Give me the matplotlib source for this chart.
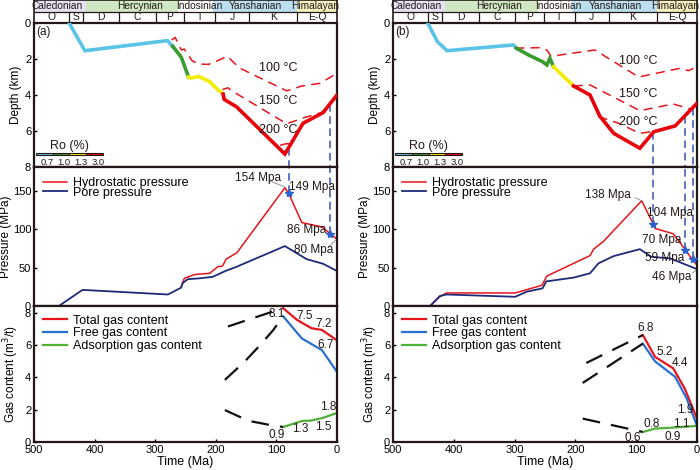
import matplotlib
matplotlib.use('Agg')
import matplotlib.pyplot as plt
import matplotlib.patches as mpatches
import numpy as np

plt.rcParams['font.family'] = ['Liberation Sans', 'DejaVu Sans']

# --- geological time scale (Ma) ---
periods = ['O', 'S', 'D', 'C', 'P', 'T', 'J', 'K', 'E-Q']
period_bounds = [500, 443, 419, 359, 299, 252, 201, 145, 66, 0]
eras = ['Caledonian', 'Hercynian', 'Indosinian', 'Yanshanian', 'Himalayan']
era_bounds = [500, 414, 262, 205, 66, 0]
era_colors = ['#e6e2f3', '#cfe7c2', '#ffffff', '#bcdff0', '#f6f2bf']
era_label_t = [462, 325, 228, 134, 36]

ro_labels = ['0.7', '1.0', '1.3', '3.0']
ro_colors = ['#5bc3e8', '#3a9c2e', '#f2ee00', '#e8000b']

# --- (a) burial history ---
a_blue_t = [442, 416, 280, 271]
a_blue_d = [0, 1.54, 0.98, 1.3]
a_green_t = [271, 257, 245]
a_green_d = [1.3, 1.9, 3.0]
a_yellow_t = [245, 241, 228, 210, 197, 188]
a_yellow_d = [3.0, 3.06, 2.97, 3.26, 3.7, 3.93]
a_red_t = [188, 186, 166, 86, 56, 23, 0]
a_red_d = [3.95, 4.25, 4.65, 7.28, 5.57, 4.98, 4.0]

a_iso100_t = [273, 267, 257, 252, 239, 228, 212, 194, 181, 161, 83, 58, 28, 0]
a_iso100_d = [0.95, 0.8, 1.5, 1.45, 2.1, 2.28, 2.3, 2.05, 1.85, 2.5, 3.77, 3.5, 3.35, 2.8]
a_iso150_t = [189, 180, 172, 83, 58, 23]
a_iso150_d = [3.7, 3.6, 3.8, 5.6, 5.3, 4.95]
a_iso200_t = [94, 86, 78]
a_iso200_d = [6.8, 6.72, 6.7]
a_iso_label_d = [2.5, 4.33, 5.95]

# --- (b) burial history ---
b_blue_t = [443, 427, 411, 302, 297]
b_blue_d = [0, 1.04, 1.54, 1.22, 1.4]
b_green_t = [297, 277, 254, 247, 242, 236]
b_green_d = [1.4, 1.78, 2.15, 2.33, 1.96, 2.43]
b_yellow_t = [236, 203]
b_yellow_d = [2.43, 3.5]
b_red_t = [203, 176, 160, 137, 94, 71, 36, 0]
b_red_d = [3.5, 4.0, 5.17, 6.13, 6.96, 6.04, 5.72, 4.46]

b_iso100_t = [299, 258, 247, 240, 168, 96, 28, 14, 6]
b_iso100_d = [1.4, 1.37, 1.5, 1.85, 1.5, 3.0, 2.52, 2.65, 2.52]
b_iso150_t = [203, 176, 94, 39, 9]
b_iso150_d = [3.5, 3.44, 4.87, 4.5, 4.8]
b_iso200_t = [162, 129, 94, 75]
b_iso200_d = [5.2, 5.57, 6.13, 6.04]
b_iso_label_d = [2.1, 3.94, 5.5]

iso_labels = ['100 °C', '150 °C', '200 °C']

# --- pressure (MPa) ---
a_hyd_t = [257, 252, 235, 210, 197, 189, 183, 165, 86, 80, 58, 25, 0]
a_hyd_p = [25, 36, 41, 42.6, 51, 52, 61, 69.5, 154, 147, 108.6, 103, 87]
a_pore_t = [459, 420, 279, 257, 255, 246, 227, 205, 183, 166, 86, 50, 23, 0]
a_pore_p = [0, 21, 15, 24, 29.6, 35, 36, 38, 46, 51, 78, 61, 55, 45.6]
a_star_t = [80, 12]
a_star_p = [147, 94]

b_hyd_t = [439, 423, 412, 299, 255, 247, 176, 170, 154, 91, 72, 69, 39, 20, 9, 0]
b_hyd_p = [0, 12, 17, 17, 27, 39, 65.6, 74, 84, 137, 107, 101, 94, 74, 62, 53]
b_pore_t = [439, 423, 412, 299, 280, 254, 248, 203, 176, 162, 137, 94, 75, 44, 0]
b_pore_p = [0, 13, 15, 12, 18.7, 23, 32, 37, 42.6, 55.6, 65, 74, 64, 62, 48]
b_star_t = [72, 20, 7]
b_star_p = [107, 73, 61]

a_p_labels = ['154 Mpa', '149 Mpa', '86 Mpa', '80 Mpa']
a_p_label_t = [131, 42, 50, 39]
a_p_label_p = [166.5, 155.6, 99, 73]
b_p_labels = ['138 Mpa', '104 Mpa', '70 Mpa', '59 Mpa', '46 Mpa']
b_p_label_t = [146, 44, 58, 53, 42]
b_p_label_p = [145, 121, 86, 63, 38]

# --- gas content (m3/t) ---
a_tot_t = [89, 67, 61, 42, 25, 0]
a_tot_g = [8.3, 7.6, 7.46, 7.05, 6.95, 6.3]
a_free_t = [89, 58, 25, 0]
a_free_g = [7.8, 6.42, 5.7, 4.35]
a_ads_t = [89, 58, 42, 23, 0]
a_ads_g = [0.93, 1.3, 1.33, 1.5, 1.8]
a_ext_tot_t = [180, 89]
a_ext_tot_g = [7.16, 8.3]
a_ext_free_t = [185, 152, 127, 105, 89]
a_ext_free_g = [3.85, 5.0, 6.0, 6.95, 7.8]
a_ext_ads_t = [185, 160, 139, 110, 89]
a_ext_ads_g = [1.98, 1.55, 1.26, 1.05, 0.93]
a_g_labels = ['8.1', '7.5', '7.2', '6.7', '1.8', '1.5', '1.3', '0.9']
a_g_label_t = [99, 53, 23, 18, 15, 23, 61, 99]
a_g_label_g = [7.93, 7.8, 7.3, 6.0, 2.16, 0.91, 0.79, 0.42]

b_tot_t = [89, 69, 39, 20, 9, 0]
b_tot_g = [6.63, 5.28, 4.56, 3.3, 2.28, 1.45]
b_free_t = [89, 69, 36, 17, 0]
b_free_g = [6.1, 5.0, 4.04, 2.7, 1.0]
b_ads_t = [89, 69, 36, 0]
b_ads_g = [0.62, 0.83, 0.9, 1.0]
b_ext_tot_t = [182, 89]
b_ext_tot_g = [4.9, 6.63]
b_ext_free_t = [188, 89]
b_ext_free_g = [3.66, 6.1]
b_ext_ads_t = [188, 89]
b_ext_ads_g = [1.45, 0.62]
b_g_labels = ['6.8', '5.2', '4.4', '1.9', '1.1', '0.8', '0.9', '0.6']
b_g_label_t = [84, 53, 28, 20, 25.5, 75, 39.6, 105]
b_g_label_g = [7.04, 5.6, 4.87, 2.0, 1.14, 1.14, 0.31, 0.27]

RED = '#e8141c'
NAVY = '#1c2a78'
FREE = '#2a6fd0'
GREEN = '#52b038'
VDASH = '#3552b8'
INK = '#231815'


def style_axis(ax):
    for sp in ax.spines.values():
        sp.set_linewidth(1.6)
        sp.set_color(INK)
    ax.tick_params(direction='in', length=2.5, width=1, labelsize=8, pad=2)
    ax.set_xlim(500, 0)


def draw_header(ax):
    ax.set_xlim(500, 0)
    ax.set_ylim(0, 2)
    for i in range(len(eras)):
        ax.add_patch(mpatches.Rectangle((era_bounds[i + 1], 1), era_bounds[i] - era_bounds[i + 1], 1,
                                        facecolor=era_colors[i], edgecolor='none'))
        ax.text(era_label_t[i], 1.5, eras[i], ha='center', va='center', fontsize=7.3, color=INK)
    for i in range(len(periods)):
        ax.text((period_bounds[i] + period_bounds[i + 1]) / 2, 0.5, periods[i],
                ha='center', va='center', fontsize=7.5, color=INK)
        if i > 0:
            ax.plot([period_bounds[i]] * 2, [0, 1], color=INK, lw=0.9)
    ax.axhline(1, color=INK, lw=0.9)
    ax.set_xticks([])
    ax.set_yticks([])
    for sp in ax.spines.values():
        sp.set_linewidth(1.2)
        sp.set_color(INK)


def draw_depth(ax, segs, isos, iso_ld, vt, tag):
    style_axis(ax)
    ax.set_ylim(8, 0)
    ax.set_yticks([0, 2, 4, 6, 8])
    ax.set_xticks([])
    for (t, d), c in zip(segs, ro_colors):
        ax.plot(t, d, color=c, lw=2.6, solid_joinstyle='miter', zorder=3)
    for t, d in isos:
        ax.plot(t, d, color=RED, lw=1.1, dashes=(6, 4), zorder=2)
    for lab, d in zip(iso_labels, iso_ld):
        ax.text(97, d, lab, ha='center', va='center', fontsize=9, color=INK, zorder=4)
    red_t, red_d = segs[3]
    for t in vt:
        top = np.interp(t, red_t[::-1], red_d[::-1])
        ax.plot([t, t], [top, 8], color=VDASH, lw=1.1, dashes=(5, 3), zorder=1)
    ax.text(497, 0.5, tag, ha='left', va='center', fontsize=8.5, color=INK)
    # Ro legend
    w = 111 / 4
    for i, c in enumerate(ro_colors):
        x0 = 497 - w * (i + 1)
        ax.add_patch(mpatches.Rectangle((x0, 7.22), w, 0.13, facecolor=c, edgecolor=INK, lw=0.8))
        ax.text(x0 + w / 2 - 5, 7.76, ro_labels[i], ha='center', va='center', fontsize=6.8, color=INK)
    ax.text(441, 6.85, 'Ro (%)', ha='center', va='center', fontsize=9, color=INK)
    ax.set_ylabel('Depth (km)', fontsize=8.5, labelpad=2)


def draw_pressure(ax, hyd, pore, st, sp, labels, lt, lp, leaders):
    style_axis(ax)
    ax.set_ylim(0, 181)
    ax.set_yticks([0, 50, 100, 150])
    ax.set_xticks([])
    ax.plot(hyd[0], hyd[1], color=RED, lw=1.1, label='Hydrostatic pressure')
    ax.plot(pore[0], pore[1], color=NAVY, lw=1.3, label='Pore pressure')
    for t, p in zip(st, sp):
        ax.plot([t, t], [p, 181], color=VDASH, lw=1.1, dashes=(5, 3), zorder=1)
    ax.plot(st, sp, ls='none', marker='*', ms=6, color='#2a62d0', zorder=5)
    for lab, t, p in zip(labels, lt, lp):
        ax.text(t, p, lab, ha='center', va='center', fontsize=8.5, color=INK, zorder=6)
    for (x0, y0), (x1, y1) in leaders:
        ax.plot([x0, x1], [y0, y1], color='#9a9a9a', lw=0.7)
    ax.legend(loc='upper left', bbox_to_anchor=(0.0, 0.99), frameon=False, fontsize=9,
              handlelength=1.9, handletextpad=0.5, labelspacing=-0.2, borderaxespad=0.3)
    ax.set_ylabel('Pressure (MPa)', fontsize=8.5, labelpad=0.5)


def draw_gas(ax, tot, free, ads, exts, labels, lt, lg):
    style_axis(ax)
    ax.set_ylim(0, 8.43)
    ax.set_yticks([0, 2, 4, 6, 8])
    ax.set_xticks([500, 400, 300, 200, 100, 0])
    ax.plot(tot[0], tot[1], color=RED, lw=1.6, label='Total gas content')
    ax.plot(free[0], free[1], color=FREE, lw=1.6, label='Free gas content')
    ax.plot(ads[0], ads[1], color=GREEN, lw=1.6, label='Adsorption gas content')
    for t, g in exts:
        ax.plot(t, g, color='#111111', lw=1.6, dashes=(8, 5))
    for lab, t, g in zip(labels, lt, lg):
        ax.text(t, g, lab, ha='center', va='center', fontsize=8.5, color=INK)
    ax.legend(loc='upper left', bbox_to_anchor=(0.0, 1.0), frameon=False, fontsize=9,
              handlelength=1.9, handletextpad=0.5, labelspacing=0.05, borderaxespad=0.3)
    ax.set_ylabel('Gas content (m$^3$/t)', fontsize=8.5, labelpad=3)
    ax.set_xlabel('Time (Ma)', fontsize=9, labelpad=1)


fig = plt.figure(figsize=(7, 4.7), dpi=100)

cols = [(34 / 700, 303 / 700), (393 / 700, 304 / 700)]
rows = {'head': (0.951, 0.048), 'depth': (0.6447, 0.3064),
        'press': (0.3489, 0.2958), 'gas': (0.0596, 0.2893)}

panels = [
    dict(segs=[(a_blue_t, a_blue_d), (a_green_t, a_green_d), (a_yellow_t, a_yellow_d), (a_red_t, a_red_d)],
         isos=[(a_iso100_t, a_iso100_d), (a_iso150_t, a_iso150_d), (a_iso200_t, a_iso200_d)],
         iso_ld=a_iso_label_d, tag='(a)',
         hyd=(a_hyd_t, a_hyd_p), pore=(a_pore_t, a_pore_p), st=a_star_t, sp=a_star_p,
         pl=(a_p_labels, a_p_label_t, a_p_label_p),
         leaders=[((112, 163), (86, 155)), ((14, 77), (2, 86))],
         gas=((a_tot_t, a_tot_g), (a_free_t, a_free_g), (a_ads_t, a_ads_g)),
         exts=[(a_ext_tot_t, a_ext_tot_g), (a_ext_free_t, a_ext_free_g), (a_ext_ads_t, a_ext_ads_g)],
         gl=(a_g_labels, a_g_label_t, a_g_label_g)),
    dict(segs=[(b_blue_t, b_blue_d), (b_green_t, b_green_d), (b_yellow_t, b_yellow_d), (b_red_t, b_red_d)],
         isos=[(b_iso100_t, b_iso100_d), (b_iso150_t, b_iso150_d), (b_iso200_t, b_iso200_d)],
         iso_ld=b_iso_label_d, tag='(b)',
         hyd=(b_hyd_t, b_hyd_p), pore=(b_pore_t, b_pore_p), st=b_star_t, sp=b_star_p,
         pl=(b_p_labels, b_p_label_t, b_p_label_p),
         leaders=[((102, 141), (91, 137)), ((8, 43), (0, 47))],
         gas=((b_tot_t, b_tot_g), (b_free_t, b_free_g), (b_ads_t, b_ads_g)),
         exts=[(b_ext_tot_t, b_ext_tot_g), (b_ext_free_t, b_ext_free_g), (b_ext_ads_t, b_ext_ads_g)],
         gl=(b_g_labels, b_g_label_t, b_g_label_g)),
]

for (x0, w), pn in zip(cols, panels):
    axh = fig.add_axes([x0, rows['head'][0], w, rows['head'][1]])
    axd = fig.add_axes([x0, rows['depth'][0], w, rows['depth'][1]])
    axp = fig.add_axes([x0, rows['press'][0], w, rows['press'][1]])
    axg = fig.add_axes([x0, rows['gas'][0], w, rows['gas'][1]])
    draw_header(axh)
    draw_depth(axd, pn['segs'], pn['isos'], pn['iso_ld'], pn['st'], pn['tag'])
    draw_pressure(axp, pn['hyd'], pn['pore'], pn['st'], pn['sp'], *pn['pl'], pn['leaders'])
    tot, free, ads = pn['gas']
    draw_gas(axg, tot, free, ads, pn['exts'], *pn['gl'])

fig.savefig('out.png', dpi=100)
